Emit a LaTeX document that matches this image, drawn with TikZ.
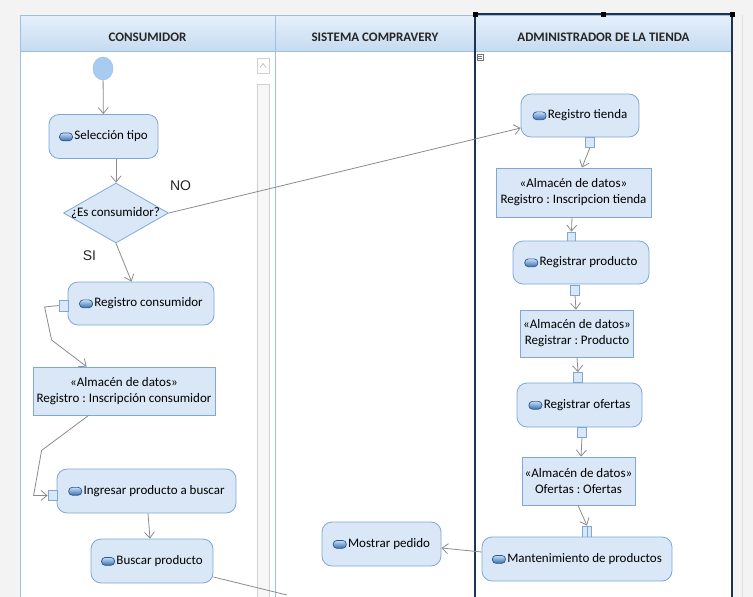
\documentclass[tikz,border=0pt]{standalone}
\usepackage{fontspec}
\setmainfont{Carlito}
\newfontfamily\labfont{Liberation Sans}
\usetikzlibrary{shapes.geometric,arrows.meta,calc}
\frenchspacing
\definecolor{bgc}{HTML}{F3F3F3}
\definecolor{nf}{HTML}{D9E7F6}
\definecolor{nb}{HTML}{7FA8D8}
\definecolor{hdtop}{HTML}{E6F0FB}
\definecolor{hdbot}{HTML}{C6DBF0}
\definecolor{lanec}{HTML}{9DBFE3}
\definecolor{eg}{HTML}{8C8C8C}
\definecolor{selc}{HTML}{1E3350}
\definecolor{initc}{HTML}{A8CCEF}
\definecolor{sbc}{HTML}{D0D0D0}
\definecolor{icotop}{HTML}{C4DDF5}
\definecolor{icobot}{HTML}{3A6FB0}
\definecolor{icob}{HTML}{2A5690}
\newcommand\actico{\tikz[baseline=0pt]{\draw[rounded corners=3.5pt,top color=icotop,bottom color=icobot,draw=icob,line width=0.7pt] (0pt,-0.8pt) rectangle (13pt,7pt);}\hspace{1.5pt}}
\tikzset{
  act/.style={rectangle,rounded corners=10pt,draw=nb,fill=nf,line width=0.8pt,inner sep=0pt,font=\fontsize{13}{15}\selectfont},
  store/.style={rectangle,draw=nb,fill=nf,line width=0.8pt,inner sep=0pt,align=center,font=\fontsize{13}{16}\selectfont},
  pinbox/.style={rectangle,draw=nb,fill=nf,line width=0.8pt,inner sep=0pt,minimum width=8.5pt,minimum height=10pt},
  flow/.style={draw=eg,line width=0.8pt,-{Straight Barb[length=6pt,width=10pt]}},
  plainline/.style={draw=eg,line width=0.8pt},
  hdr/.style={font=\bfseries\fontsize{13}{15}\selectfont,text=black!85},
  lab/.style={font=\labfont\fontsize{14}{16}\selectfont,text=black!85},
}
\begin{document}
\begin{tikzpicture}[x=1pt,y=-1pt]
\useasboundingbox (0,0) rectangle (753,597);
\fill[bgc] (0,0) rectangle (753,597);
% lanes body
\fill[white] (20,51) rectangle (732,597);
\shade[top color=hdtop,bottom color=hdbot] (20,15) rectangle (732,51);
\draw[lanec,line width=0.8pt] (20,597) -- (20,15) -- (732,15);
\draw[lanec,line width=0.8pt] (20,51) -- (732,51);
\draw[lanec,line width=0.8pt] (275,15) -- (275,597);
\draw[black!12,line width=0.6pt] (742,15) -- (742,597);
% scroll bar
\draw[sbc,fill=white,line width=0.6pt] (257,58) rectangle (269,73);
\draw[black!30,line width=0.6pt] (260,67.5) -- (263,63.5) -- (266,67.5);
\draw[sbc,fill=black!3,line width=0.6pt] (257,84) rectangle (269,597);
% headers
\node[hdr] (h1) at (147.5,37) {CONSUMIDOR};
\node[hdr] (h2) at (375,37) {SISTEMA COMPRAVERY};
\node[hdr] (h3) at (603.5,37) {ADMINISTRADOR DE LA TIENDA};
% selected lane frame
\draw[selc,line width=1.3pt] (475,597) -- (475,14) -- (732,14) -- (732,597);
\foreach \hx in {475,603,732} \fill[black] (\hx-2.5,11.5) rectangle (\hx+2.5,16.5);
\draw[black!55,fill=white,line width=0.5pt] (477,54) rectangle (483,60);
\draw[black!55,line width=0.5pt] (478,56) -- (482,56) (478,58) -- (482,58);
% consumidor lane
\node[ellipse,fill=initc,draw=initc!90!blue,minimum width=20pt,minimum height=23pt,inner sep=0pt] (init) at (103,68.5) {};
\node[act,minimum width=109pt,minimum height=44pt] (sel) at (103.5,136.5) {\actico Selección tipo};
\node[diamond,draw=nb,fill=nf,line width=0.8pt,inner sep=0pt,minimum width=105pt,minimum height=60pt] (dec) at (116,213) {};
\node[font=\fontsize{13}{15}\selectfont,inner sep=0pt] (dect) at (115.5,213) {¿Es consumidor?};
\node[lab] (no) at (180.5,186) {NO};
\node[lab] (si) at (89.5,256) {SI};
\node[act,minimum width=146pt,minimum height=43pt] (regC) at (141,303.5) {\actico Registro consumidor};
\node[pinbox,minimum width=9pt,minimum height=11pt] (pC) at (63.5,305.5) {};
\node[store,minimum width=182pt,minimum height=48pt] (s1) at (124,391) {«Almacén de datos»\\Registro : Inscripción consumidor};
\node[act,minimum width=179pt,minimum height=44pt] (ing) at (146.5,491) {\actico Ingresar producto a buscar};
\node[pinbox,minimum width=9pt,minimum height=10pt] (pI) at (52.5,495.5) {};
\node[act,minimum width=122pt,minimum height=44pt] (bus) at (152,561) {\actico Buscar producto};
\coordinate (busOut) at (287,595);
% sistema lane
\node[act,minimum width=119pt,minimum height=44pt] (most) at (381.5,544) {\actico Mostrar pedido};
% admin lane
\node[act,minimum width=118pt,minimum height=43pt] (regT) at (580,115.5) {\actico Registro tienda};
\node[pinbox] (pT) at (590,142) {};
\node[store,minimum width=155pt,minimum height=49pt] (s2) at (573.5,192.5) {«Almacén de datos»\\Registro : Inscripcion tienda};
\node[pinbox,minimum height=9pt] (pP1) at (571.5,236.5) {};
\node[act,minimum width=136pt,minimum height=43pt] (regP) at (581,262.5) {\actico Registrar producto};
\node[pinbox] (pP2) at (575,290) {};
\node[store,minimum width=113pt,minimum height=47pt] (s3) at (577,333.5) {«Almacén de datos»\\Registrar : Producto};
\node[pinbox] (pO1) at (578,377.5) {};
\node[act,minimum width=125pt,minimum height=44pt] (regO) at (579.5,405) {\actico Registrar ofertas};
\node[pinbox] (pO2) at (582,432) {};
\node[store,minimum width=113pt,minimum height=48pt] (s4) at (578.5,481) {«Almacén de datos»\\Ofertas : Ofertas};
\node[pinbox,minimum height=11pt] (pM) at (587,531.5) {};
\draw[nb,line width=0.6pt] (pM.north) -- (pM.south);
\node[act,minimum width=190pt,minimum height=44pt] (mant) at (577,559) {\actico Mantenimiento de productos};
% connectors
\draw[flow] (init) -- (sel);
\draw[flow] (dec.north |- sel.south) -- (dec.north);
\draw[flow] (dec.east) -- ($(regT.west)+(0,12.5)$);
\draw[flow] (dec.south) -- ($(regC.north west)+(64,0)$);
\draw[flow] (pC.west) -- ++(-14,1.5) -- ++(7,33) -- ($(s1.north west)+(54,0)$);
\draw[flow] ($(s1.south west)+(56,0)$) -- ++(-47,35) -- ++(-8,45) -- (pI.west);
\draw[flow] ($(ing.south)+(1.5,0)$) -- ($(bus.north)+(-2,0)$);
\draw[plainline] ($(bus.east)+(0,16)$) -- (busOut);
\draw[flow] (pT.south) -- ($(s2.north)+(8.5,0)$);
\draw[flow] ($(s2.south)+(-1.5,0)$) -- (pP1.north);
\draw[flow] (pP2.south) -- ($(s3.north)+(-1,0)$);
\draw[flow] (s3.south) -- (pO1.north);
\draw[flow] (pO2.south) -- ($(s4.north)+(2.5,0)$);
\draw[flow] ($(s4.south)+(-0.5,0)$) -- (pM.north);
\draw[flow] ($(mant.west)+(0,-7)$) -- ($(most.east)+(0,4)$);
\end{tikzpicture}
\end{document}
